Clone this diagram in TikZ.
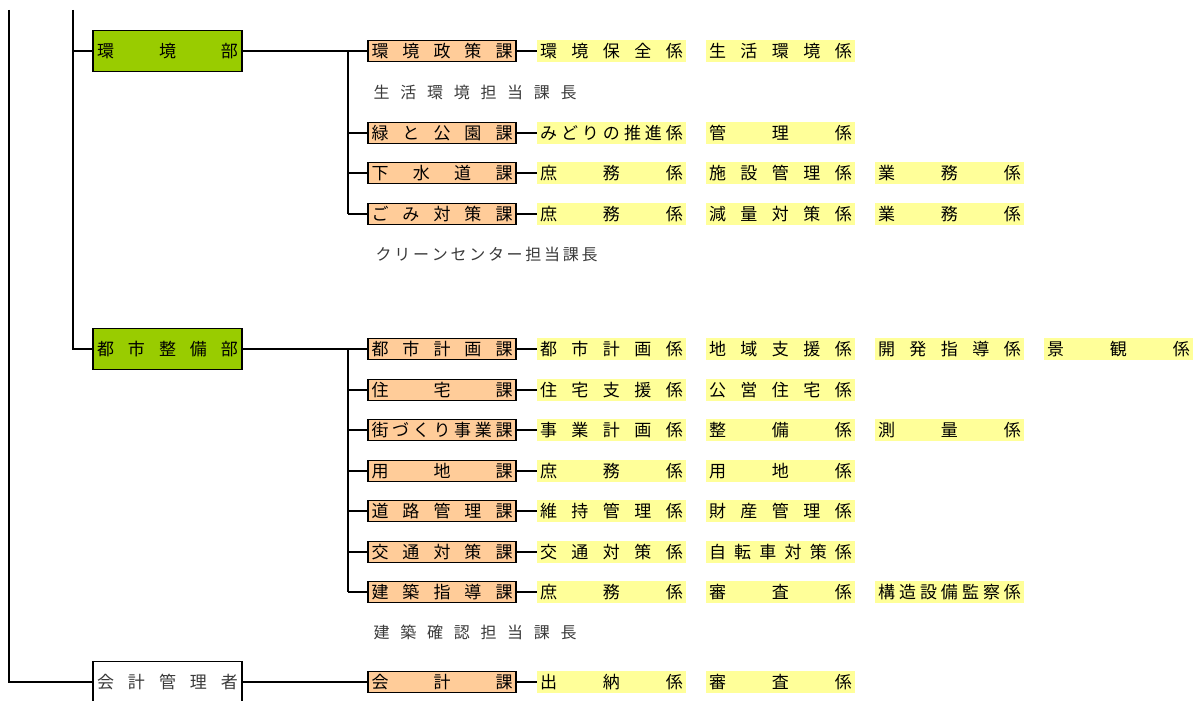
\documentclass[tikz,border=0pt]{standalone}
\usepackage{fontspec}
\setmainfont{Noto Sans CJK JP}
\usetikzlibrary{positioning}
\definecolor{bugreen}{HTML}{99CC00}
\definecolor{kaorange}{HTML}{FFCC99}
\definecolor{kayellow}{HTML}{FFFF99}
\definecolor{notegray}{HTML}{3A3A3A}
\newcommand{\buname}[1]{\makebox[141pt][s]{#1}}
\newcommand{\kaname}[1]{\makebox[141pt][s]{#1}}
\newcommand{\kkname}[1]{\makebox[143pt][s]{#1}}

\begin{document}
\begin{tikzpicture}
        [
            x=1pt, y=-1pt, line width=1.3pt,
            every node/.style={font=\fontsize{17}{17}\selectfont},
            bu/.style={draw, line width=1.7pt, minimum width=149pt,
                       minimum height=41pt, inner sep=0pt, outer sep=0pt},
            ka/.style={draw, fill=kaorange, line width=1.8pt, minimum width=148pt,
                       minimum height=21pt, inner sep=0pt, outer sep=0pt},
            kakari/.style={fill=kayellow, minimum width=149pt,
                           minimum height=22pt, inner sep=0pt, outer sep=0pt},
            tanto/.style={text=notegray, inner sep=0pt, anchor=west,
                          font=\fontsize{16}{16}\selectfont}
        ]
        \useasboundingbox (0,0) rectangle (1194,701);
        \coordinate (top1) at (9,10);
        \coordinate (top2) at (73,10);
        \coordinate (bus) at (348,0);
        % departments
        \node (kankyo) [bu, fill=bugreen, anchor=west] at (93,51) {\buname{環 境 部}};
        \node (toshi) [bu, fill=bugreen, anchor=west] at (93,349) {\buname{都 市 整 備 部}};
        \node (kaikei) [bu, text=notegray, anchor=west] at (93,682) {\buname{会 計 管 理 者}};
        % sections of kankyo
        \node (seisaku) [ka, anchor=west] at (368,51) {\kaname{環 境 政 策 課}};
        \node (seisaku1) [kakari, right=21pt of seisaku] {\kkname{環 境 保 全 係}};
        \node (seisaku2) [kakari, right=20pt of seisaku1] {\kkname{生 活 環 境 係}};
        \node (tanto1) [tanto] at (373,92) {\makebox[203pt][s]{生 活 環 境 担 当 課 長}};
        \node (midori) [ka, anchor=west] at (368,133) {\kaname{緑 と 公 園 課}};
        \node (midori1) [kakari, right=21pt of midori] {\kkname{み ど り の 推 進 係}};
        \node (midori2) [kakari, right=20pt of midori1] {\kkname{管 理 係}};
        \node (gesui) [ka, anchor=west] at (368,173) {\kaname{下 水 道 課}};
        \node (gesui1) [kakari, right=21pt of gesui] {\kkname{庶 務 係}};
        \node (gesui2) [kakari, right=20pt of gesui1] {\kkname{施 設 管 理 係}};
        \node (gesui3) [kakari, right=20pt of gesui2] {\kkname{業 務 係}};
        \node (gomi) [ka, anchor=west] at (368,214) {\kaname{ご み 対 策 課}};
        \node (gomi1) [kakari, right=21pt of gomi] {\kkname{庶 務 係}};
        \node (gomi2) [kakari, right=20pt of gomi1] {\kkname{減 量 対 策 係}};
        \node (gomi3) [kakari, right=20pt of gomi2] {\kkname{業 務 係}};
        \node (tanto2) [tanto] at (375,254) {\makebox[222pt][s]{ク リ ー ン セ ン タ ー 担 当 課 長}};
        % sections of toshi
        \node (keikaku) [ka, anchor=west] at (368,349) {\kaname{都 市 計 画 課}};
        \node (keikaku1) [kakari, right=21pt of keikaku] {\kkname{都 市 計 画 係}};
        \node (keikaku2) [kakari, right=20pt of keikaku1] {\kkname{地 域 支 援 係}};
        \node (keikaku3) [kakari, right=20pt of keikaku2] {\kkname{開 発 指 導 係}};
        \node (keikaku4) [kakari, right=20pt of keikaku3] {\kkname{景 観 係}};
        \node (jutaku) [ka, anchor=west] at (368,390) {\kaname{住 宅 課}};
        \node (jutaku1) [kakari, right=21pt of jutaku] {\kkname{住 宅 支 援 係}};
        \node (jutaku2) [kakari, right=20pt of jutaku1] {\kkname{公 営 住 宅 係}};
        \node (machi) [ka, anchor=west] at (368,430) {\kaname{街 づ く り 事 業 課}};
        \node (machi1) [kakari, right=21pt of machi] {\kkname{事 業 計 画 係}};
        \node (machi2) [kakari, right=20pt of machi1] {\kkname{整 備 係}};
        \node (machi3) [kakari, right=20pt of machi2] {\kkname{測 量 係}};
        \node (yochi) [ka, anchor=west] at (368,471) {\kaname{用 地 課}};
        \node (yochi1) [kakari, right=21pt of yochi] {\kkname{庶 務 係}};
        \node (yochi2) [kakari, right=20pt of yochi1] {\kkname{用 地 係}};
        \node (doro) [ka, anchor=west] at (368,511) {\kaname{道 路 管 理 課}};
        \node (doro1) [kakari, right=21pt of doro] {\kkname{維 持 管 理 係}};
        \node (doro2) [kakari, right=20pt of doro1] {\kkname{財 産 管 理 係}};
        \node (kotsu) [ka, anchor=west] at (368,552) {\kaname{交 通 対 策 課}};
        \node (kotsu1) [kakari, right=21pt of kotsu] {\kkname{交 通 対 策 係}};
        \node (kotsu2) [kakari, right=20pt of kotsu1] {\kkname{自 転 車 対 策 係}};
        \node (kenchiku) [ka, anchor=west] at (368,592) {\kaname{建 築 指 導 課}};
        \node (kenchiku1) [kakari, right=21pt of kenchiku] {\kkname{庶 務 係}};
        \node (kenchiku2) [kakari, right=20pt of kenchiku1] {\kkname{審 査 係}};
        \node (kenchiku3) [kakari, right=20pt of kenchiku2] {\kkname{構 造 設 備 監 察 係}};
        \node (tanto3) [tanto] at (373,632) {\makebox[203pt][s]{建 築 確 認 担 当 課 長}};
        % section of kaikei
        \node (kaikeika) [ka, anchor=west] at (368,682) {\kaname{会 計 課}};
        \node (kaikeika1) [kakari, right=21pt of kaikeika] {\kkname{出 納 係}};
        \node (kaikeika2) [kakari, right=20pt of kaikeika1] {\kkname{審 査 係}};
        % trunk lines
        \draw (top1) |- (kaikei.west);
        \draw (top2) |- (toshi.west);
        \draw (top2 |- kankyo.west) -- (kankyo.west);
        \draw (kankyo.east) -- (seisaku.west);
        \draw (toshi.east) -- (keikaku.west);
        \draw (kaikei.east) -- (kaikeika.west);
        \draw (bus |- seisaku.west) -- (bus |- gomi.west);
        \draw (bus |- keikaku.west) -- (bus |- kenchiku.west);
        \foreach \s in {midori,gesui,gomi,jutaku,machi,yochi,doro,kotsu,kenchiku}
            \draw (bus |- \s.west) -- (\s.west);
        \foreach \s in {seisaku,midori,gesui,gomi,keikaku,jutaku,machi,yochi,doro,kotsu,kenchiku,kaikeika}
            \draw (\s.east) -- (\s1.west);
    \end{tikzpicture}
\end{document}
